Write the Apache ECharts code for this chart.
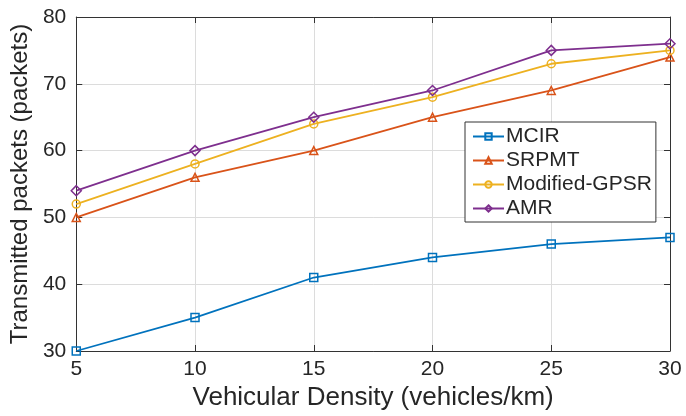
<!DOCTYPE html>
<html><head><meta charset="utf-8">
<script src="https://cdn.jsdelivr.net/npm/echarts@6/dist/echarts.min.js"></script>
<style>html,body{margin:0;padding:0;background:#fff}#c{width:686px;height:416px}</style>
</head><body><div id="c"></div>
<script>
const categories = [5, 10, 15, 20, 25, 30];
const mcir = [30, 35, 41, 44, 46, 47];
const srpmt = [50, 56, 60, 65, 69, 74];
const gpsr = [52, 58, 64, 68, 73, 75];
const amr = [54, 60, 65, 69, 75, 76];
const seriesNames = ['MCIR', 'SRPMT', 'Modified-GPSR', 'AMR'];
const colors = ['#0072BD', '#D95319', '#EDB120', '#7E2F8E'];
const symbols = ['rect', 'triangle', 'circle', 'diamond'];
const values = [mcir, srpmt, gpsr, amr];

const font = 'Liberation Sans, Arial, sans-serif';
const txt = '#262626';
const chart = echarts.init(document.getElementById('c'));
const gridLine = {show: true, lineStyle: {color: '#dcdcdc', width: 1}};
chart.setOption({
  animation: false,
  grid: {left: 75, right: 16, top: 17, bottom: 65},
  legend: {
    orient: 'vertical', left: 465, top: 122,
    data: seriesNames,
    itemWidth: 31, itemHeight: 8, itemGap: 3,
    borderColor: '#333', borderWidth: 1, padding: [4, 4, 3, 7],
    backgroundColor: '#fff',
    textStyle: {fontFamily: font, fontSize: 21, color: txt, padding: [0,0,0,-3]}
  },
  xAxis: [{
    type: 'value', min: 5, max: 30, interval: 5,
    name: 'Vehicular Density (vehicles/km)', nameLocation: 'middle', nameGap: 24,
    nameTextStyle: {fontFamily: font, fontSize: 26, color: txt},
    axisLine: {lineStyle: {color: '#333'}},
    axisTick: {inside: true, length: 6, lineStyle: {color: '#333'}},
    axisLabel: {fontFamily: font, fontSize: 21, color: txt, margin: 8},
    splitLine: gridLine
  }, {
    type: 'value', min: 5, max: 30, interval: 5, position: 'top',
    axisLine: {show: true, lineStyle: {color: '#333'}},
    axisTick: {show: true, inside: true, length: 6, lineStyle: {color: '#333'}},
    axisLabel: {show: false}, splitLine: {show: false}
  }],
  yAxis: [{
    type: 'value', min: 30, max: 80, interval: 10,
    name: 'Transmitted packets (packets)', nameLocation: 'middle', nameGap: 36,
    nameTextStyle: {fontFamily: font, fontSize: 24, color: txt},
    axisLine: {show: true, lineStyle: {color: '#333'}},
    axisTick: {show: true, inside: true, length: 6, lineStyle: {color: '#333'}},
    axisLabel: {fontFamily: font, fontSize: 21, color: txt, margin: 10},
    splitLine: gridLine
  }, {
    type: 'value', min: 30, max: 80, interval: 10, position: 'right',
    axisLine: {show: true, lineStyle: {color: '#333'}},
    axisTick: {show: true, inside: true, length: 6, lineStyle: {color: '#333'}},
    axisLabel: {show: false}, splitLine: {show: false}
  }],
  series: seriesNames.map((n, i) => ({
    name: n, type: 'line',
    data: categories.map((c, j) => [c, values[i][j]]),
    symbol: symbols[i], symbolSize: i === 3 ? 10 : 8,
    showAllSymbol: true,
    lineStyle: {color: colors[i], width: 1.8},
    itemStyle: {color: 'transparent', borderColor: colors[i], borderWidth: 1.5},
    emphasis: {disabled: true}
  }))
});
</script></body></html>
